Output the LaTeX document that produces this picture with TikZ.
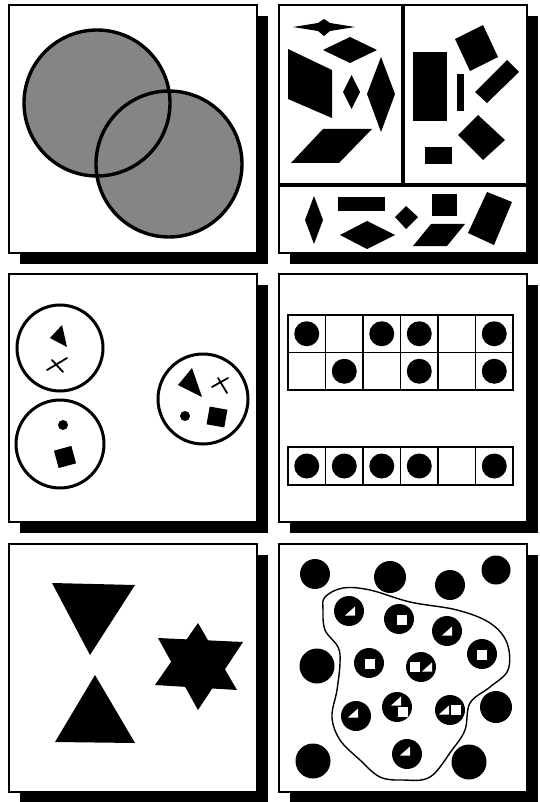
\documentclass[tikz,border=0pt]{standalone}
\usetikzlibrary{calc}

\begin{document}
\begin{tikzpicture}[x=1pt, y=-1pt,
    frame/.style={draw=black, line width=1.6pt, fill=white},
    shadow/.style={fill=black},
    divider/.style={line width=3.5pt},
    ring/.style={draw=black, line width=3pt},
    blot/.style={fill=black},
    hole/.style={fill=white},
    cross/.style={line width=1.8pt, line cap=round},
    gridline/.style={line width=1.3pt}]
    \useasboundingbox (0,0) rectangle (539,802);

    % Panels with drop shadows
    \foreach \px/\py in {9/5, 279/5, 9/274, 279/274, 9/544, 279/544} {
        \fill[shadow] (\px+11,\py+11) rectangle ++(248,248);
        \draw[frame] (\px,\py) rectangle ++(248,248);
    }

    % Panel 1: overlapping circles
    \fill[black!48] (97,103) circle (73);
    \fill[black!48] (169,164) circle (73);
    \draw[ring, line width=3.4pt] (97,103) circle (73);
    \draw[ring, line width=3.4pt] (169,164) circle (73);

    % Panel 2: dividers
    \draw[divider] (403,5) -- (403,185);
    \draw[divider] (279,185) -- (527,185);

    % Panel 2: top left shapes
    \fill[blot] (293,27) -- (318,23) -- (324,19) -- (330,23) -- (355,27)
        -- (330,31) -- (324,36) -- (318,31) -- cycle;
    \fill[blot] (323,50) -- (350,37) -- (377,50) -- (350,63) -- cycle;
    \fill[blot] (288,49) -- (332,70) -- (332,118) -- (288,99) -- cycle;
    \fill[blot] (343,92) -- (351.5,75) -- (360,92) -- (351.5,109) -- cycle;
    \fill[blot] (367,94) -- (381,57) -- (395,94) -- (381,132) -- cycle;
    \fill[blot] (291,163) -- (339,163) -- (372,129) -- (323,129) -- cycle;

    % Panel 2: top right shapes
    \fill[blot] (413,52) rectangle (447,121);
    \fill[blot] (457,74) rectangle (464,111);
    \fill[blot] (455,39) -- (483,25) -- (498,57) -- (470,71) -- cycle;
    \fill[blot] (475,92) -- (507,60) -- (519,72) -- (487,103) -- cycle;
    \fill[blot] (458,135) -- (478,115) -- (505,140) -- (483,160) -- cycle;
    \fill[blot] (425,147) rectangle (452,164);

    % Panel 2: bottom shapes
    \fill[blot] (305,220) -- (314,196) -- (323,220) -- (314,244) -- cycle;
    \fill[blot] (338,197) rectangle (385,211);
    \fill[blot] (340,235) -- (367,221) -- (395,235) -- (367,249) -- cycle;
    \fill[blot] (395,217) -- (406,206) -- (418,217) -- (406,229) -- cycle;
    \fill[blot] (432,194) rectangle (457,216);
    \fill[blot] (413,246) -- (447,246) -- (465,224) -- (431,224) -- cycle;
    \fill[blot] (468,233) -- (487,192) -- (512,202) -- (494,245) -- cycle;

    % Panel 3: groups in circles
    \draw[ring] (60,348) circle (43);
    \draw[ring] (60,444) circle (44);
    \draw[ring] (203,399) circle (45);
    \fill[blot] (62,325) -- (50,338) -- (67,347) -- cycle;
    \draw[cross] (47,370) -- (67,358);
    \draw[cross] (52,360) -- (63,372);
    \fill[blot] (63,425) circle (5);
    \fill[blot, rotate around={15:(65,457)}] (56,448) rectangle (74,466);
    \fill[blot] (192,368) -- (178,385) -- (202,397) -- cycle;
    \draw[cross] (212,387) -- (228,378);
    \draw[cross] (218,378) -- (227,393);
    \fill[blot] (185,416) circle (5);
    \fill[blot, rotate around={-10:(217,417)}] (208,408) rectangle (226,426);

    % Panel 4: rows of cells with dots
    \foreach \col in {0,...,5} {
        \draw[gridline] (288+37.5*\col,315) rectangle ++(37.5,37.5);
        \draw[gridline] (288+37.5*\col,352.5) rectangle ++(37.5,37.5);
        \draw[gridline] (288+37.5*\col,447) rectangle ++(37.5,38);
    }
    \foreach \col in {1,3,4,6} \fill[blot] (269.25+37.5*\col,333.75) circle (12.5);
    \foreach \col in {2,4,6} \fill[blot] (269.25+37.5*\col,371.25) circle (12.5);
    \foreach \col in {1,2,3,4,6} \fill[blot] (269.25+37.5*\col,466) circle (12.5);

    % Panel 5: triangles and star
    \fill[blot] (52,583) -- (135,585) -- (90,655) -- cycle;
    \fill[blot] (95,675) -- (55,742) -- (135,743) -- cycle;
    \fill[blot] (198,623) -- (155,685) -- (237,690) -- cycle;
    \fill[blot] (198,710) -- (158,638) -- (243,642) -- cycle;

    % Panel 6: outer dots
    \foreach \cx/\cy/\r in {315/574/15, 390/577/16, 450/585/15, 496/570/14.5,
                            317/666/17.5, 496/707/16, 313/761/17.5, 469/762/17.5}
        \fill[blot] (\cx,\cy) circle (\r);

    % Panel 6: enclosing outline
    \draw[line width=1.4pt] plot[smooth cycle, tension=0.6] coordinates {
        (325,597) (343,588) (370,590) (410,602) (457,610) (490,623)
        (507,643) (508,670) (490,687) (470,703) (465,730) (452,750)
        (430,777) (403,780) (380,777) (360,760) (340,740) (332,717)
        (337,690) (340,663) (338,647) (325,630) (323,610)};

    % Panel 6: inner dots with holes
    \foreach \cx/\cy in {349/611, 399/619, 447/631, 482/654, 369/663,
                         421/667, 356/716, 397/707, 450/710, 407/754}
        \fill[blot] (\cx,\cy) circle (15);
    % triangles
    \foreach \tx/\ty in {350/611, 447/631, 353/713, 405/751, 427/667, 396/701, 444/710}
        \fill[hole] (\tx-5,\ty+4.5) -- (\tx+5,\ty+4.5) -- (\tx+5,\ty-4.5) -- cycle;
    % squares
    \foreach \sx/\sy in {402/620, 482/655, 370/664, 415/667, 403/712, 456/710}
        \fill[hole] (\sx-5,\sy-5) rectangle ++(10,10);
\end{tikzpicture}
\end{document}
